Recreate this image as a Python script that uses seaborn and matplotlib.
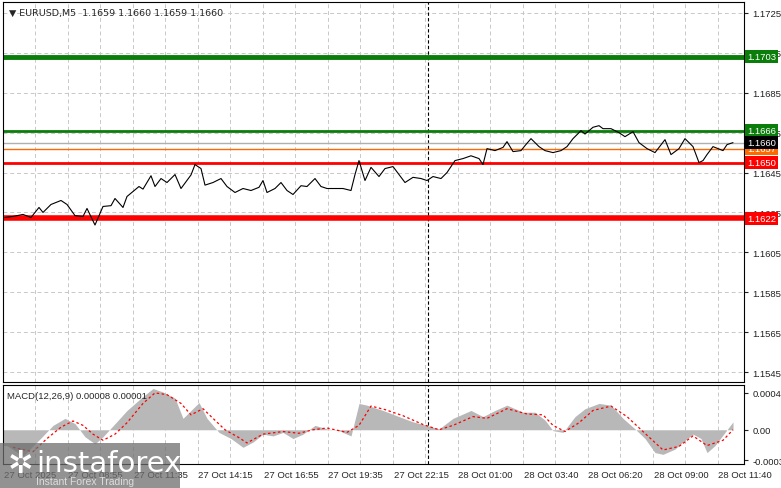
import numpy as np
import pandas as pd
import matplotlib
matplotlib.use("Agg")
import matplotlib.pyplot as plt
from matplotlib.patches import Rectangle
import seaborn as sns

sns.set_style("white")
plt.rcParams['font.family'] = ['Liberation Sans', 'DejaVu Sans']

# price path (bar index, close)
bars = [1,5,10,14,18,20,24,29,32,36, 40,42,46,50,54,56,60,62,68,70,
        74,76,79,82,86,89,94,96,99,101, 105,109,112,116,120,124,128,130,132,136,
        139,142,145,149,152,156,159,162,166,170, 174,176,178,181,184,188,191,195,198,201,
        205,209,212,215,219,222,226,230,234,238, 240,242,246,250,252,255,259,261,264,268,
        271,275,279,282,285,289,291,295,298,300, 304,308,311,315,318,322,326,331,334,338,
        341,345,348,350,352,355,360,362,365]
prices = [1.16225,1.1623,1.1624,1.16225,1.16275,1.1625,1.1629,1.1631,1.1629,1.16234,
          1.1623,1.1627,1.16187,1.1628,1.16284,1.1632,1.16275,1.1633,1.1638,1.16367,
          1.16434,1.1638,1.1642,1.1640,1.1644,1.1637,1.16438,1.1649,1.1647,1.16387,
          1.1640,1.1642,1.1638,1.1635,1.1637,1.1636,1.16376,1.1641,1.1635,1.1637,
          1.1640,1.1636,1.1634,1.16384,1.1638,1.1642,1.1638,1.1637,1.1637,1.1637,
          1.1636,1.1644,1.1651,1.1641,1.16476,1.1643,1.1647,1.1648,1.1644,1.1640,
          1.16426,1.1642,1.1641,1.1643,1.1642,1.1645,1.1651,1.1652,1.16534,1.1652,
          1.1649,1.1657,1.1656,1.16576,1.16605,1.16555,1.1656,1.16585,1.1662,1.1658,
          1.1656,1.1655,1.1656,1.1658,1.1662,1.1666,1.16643,1.16677,1.16685,1.1667,
          1.1667,1.1665,1.1663,1.16655,1.1660,1.1657,1.1655,1.16615,1.1654,1.1657,
          1.1662,1.1658,1.1650,1.1651,1.1654,1.1658,1.1656,1.1659,1.1660]

hist_bars = [0,2,10,20,25,31,36,41,46,50,56,62,70,75,80,86,90,94,98,102,108,114,120,125,130,135,
             140,145,150,156,162,168,174,178,182,190,198,205,212,218,225,234,240,246,252,260,
             266,271,275,280,286,291,298,304,310,316,321,326,330,336,341,345,349,352,356,361,365]
hist_vals = [-0.00018,-0.00018,-0.0003,-0.00007,0.00005,0.00013,0.00007,-0.00008,-0.00016,-0.00008,
             0.00007,0.00022,0.00038,0.00047,0.00043,0.00036,0.00013,0.00022,0.00031,0.00013,
             -0.00003,-0.0001,-0.0002,-0.00014,-0.00005,-0.00007,-0.00003,-0.0001,-0.00005,0.00005,
             0.00001,-0.00001,-0.00007,0.0003,0.00028,0.00022,0.00015,0.00009,0.00005,0.00001,
             0.00013,0.00022,0.00015,0.00022,0.00028,0.0002,0.0002,0.00011,-0.00001,-0.00003,
             0.00015,0.00024,0.0003,0.00028,0.00013,0.00001,-0.0001,-0.00026,-0.00028,-0.00022,
             -0.00012,-0.00005,-0.0001,-0.00026,-0.00018,-0.00003,0.00009]
sig_bars = [5,15,22,29,35,40,45,50,56,62,70,76,82,89,94,100,105,111,118,122,130,140,148,155,
            162,172,178,184,191,200,210,218,225,235,242,252,262,270,275,281,288,295,304,312,
            320,330,338,345,352,360,365]
sig_vals = [-0.0002,-0.00025,-0.0001,0.00003,0.0001,0.00005,-0.00005,-0.00012,-0.00005,0.00008,
            0.0003,0.00042,0.0004,0.0003,0.00017,0.00024,0.00013,0.0,-0.00009,-0.00015,
            -0.00005,-0.00002,-0.00004,0.0,0.00002,-0.00003,0.00005,0.00027,0.00023,0.00016,
            0.00006,0.0,0.00005,0.00015,0.00013,0.00024,0.00018,0.00017,0.00005,-0.00002,
            0.00008,0.00022,0.00027,0.00015,-0.00002,-0.00023,-0.00019,-0.00007,-0.00018,-0.00012,0.0]

levels = [(1.1703, '#0a7d0a', 3.5), (1.1666, '#0a7d0a', 2.0), (1.1657, '#ff6a00', 1.0),
          (1.1660, '#b0b0b0', 1.0), (1.1650, '#ff0000', 2.0), (1.1622, '#ff0000', 4.0)]
price_ticks = [1.1725, 1.1705, 1.1685, 1.1665, 1.1645, 1.1625, 1.1605, 1.1585, 1.1565, 1.1545]
time_labels = ["27 Oct 2025", "27 Oct 08:55", "27 Oct 11:35", "27 Oct 14:15", "27 Oct 16:55",
               "27 Oct 19:35", "27 Oct 22:15", "28 Oct 01:00", "28 Oct 03:40", "28 Oct 06:20",
               "28 Oct 09:00", "28 Oct 11:40"]

W, H = 781, 489
FS = 6.8
fig = plt.figure(figsize=(7.81, 4.89), dpi=100)
ax = fig.add_axes([3/W, 1-383/H, 741/W, 380/H])
ax2 = fig.add_axes([3/W, 1-465/H, 741/W, 79/H])
xmax = 370.5
grid_x = [16 + 16.25*k for k in range(-1, 23)]

for a in (ax, ax2):
    a.set_xlim(0, xmax)
    for s in a.spines.values():
        s.set_color('black'); s.set_linewidth(0.8)
    for gx in grid_x:
        a.axvline(gx, color='#c8c8c8', ls=(0, (4, 3)), lw=0.7, zorder=0)
    a.axvline(212.5, color='black', ls=(0, (3, 2)), lw=0.8, zorder=1)
    a.yaxis.tick_right()
    a.tick_params(axis='y', labelsize=FS, length=3, pad=3, colors='#222222')
    a.set_xticks([])

ax.set_ylim(1.1540, 1.17305)
ax.set_yticks(price_ticks)
ax.set_yticklabels([f"{t:.4f}" for t in price_ticks])
for t in price_ticks:
    ax.axhline(t, color='#c8c8c8', ls=(0, (4, 3)), lw=0.7, zorder=0)

df = pd.DataFrame({'bar': bars, 'price': prices})
for lv, c, lw in levels:
    ax.axhline(lv, color=c, lw=lw, zorder=2)
sns.lineplot(data=df, x='bar', y='price', ax=ax, color='black', lw=0.8, zorder=3)
ax.set_xlabel(''); ax.set_ylabel('')

for lv, c, lw in levels:
    bg = 'black' if lv == 1.1660 else c
    ax.text(1.004, lv, f"{lv:.4f}", transform=ax.get_yaxis_transform(), fontsize=FS,
            color='white', va='center', ha='left',
            bbox=dict(boxstyle='square,pad=0.2', fc=bg, ec='none'), zorder=5, clip_on=False)
ax.text(0.008, 0.985, "▼ EURUSD,M5  1.1659 1.1660 1.1659 1.1660", transform=ax.transAxes,
        fontsize=FS, va='top', ha='left', family=['DejaVu Sans'])

ax2.set_ylim(-0.00039, 0.00051)
ax2.set_yticks([0.00042, 0.0, -0.00035])
ax2.set_yticklabels(["0.00042", "0.00", "-0.00035"])
ax2.fill_between(hist_bars, 0, hist_vals, color='#b8b8b8', lw=0, zorder=2)
sdf = pd.DataFrame({'bar': sig_bars, 'sig': sig_vals})
sns.lineplot(data=sdf, x='bar', y='sig', ax=ax2, color='red', lw=0.9, ls=(0, (2, 2)), zorder=3)
ax2.set_xlabel(''); ax2.set_ylabel('')
ax2.text(0.005, 0.93, "MACD(12,26,9) 0.00008 0.00001", transform=ax2.transAxes,
         fontsize=FS, va='top', ha='left')

for i, lab in enumerate(time_labels):
    gx = 16 + 16.25*(2*i - 1)
    ax2.text(max(gx, 0) + 0.5, -0.08, lab, transform=ax2.get_xaxis_transform(), fontsize=FS,
             va='top', ha='left', clip_on=False)

# logo
fig.patches.append(Rectangle((0, 0), 180/W, 45/H, transform=fig.transFigure,
                             fc='#6e6e6e', alpha=0.75, ec='none', zorder=10))
fig.text(8/W, 24/H, "✲", fontsize=22, color='white', va='center', zorder=11, family=['DejaVu Sans'])
fig.text(36/W, 25/H, "instaforex", fontsize=21, color='white', va='center', zorder=11, family=['DejaVu Sans'])
fig.text(36/W, 7/H, "Instant Forex Trading", fontsize=7.5, color='#dddddd', va='center', zorder=11)

fig.savefig("out.png", dpi=100, facecolor='white')
